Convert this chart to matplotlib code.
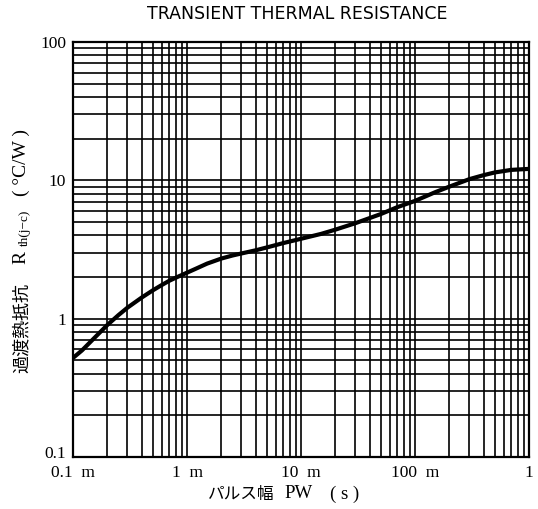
import matplotlib
matplotlib.use("Agg")
import matplotlib.pyplot as plt
import matplotlib.transforms as mtransforms
from matplotlib.ticker import LogLocator, FixedLocator, FixedFormatter, NullFormatter

# ---- data ----
pulse_width_s = [1e-4, 1.2e-4, 1.5e-4, 2e-4, 2.5e-4, 3e-4, 4e-4, 5e-4, 6e-4, 7e-4,
                 8e-4, 1e-3, 1.2e-3, 1.5e-3, 2e-3, 2.5e-3, 3e-3, 4e-3, 5e-3, 7e-3,
                 1e-2, 1.5e-2, 2e-2, 3e-2, 5e-2, 7e-2, 1e-1, 1.5e-1, 2e-1, 3e-1,
                 4e-1, 5e-1, 7e-1, 1.0]
rth_cw = [0.52, 0.59, 0.71, 0.9, 1.06, 1.2, 1.42, 1.6, 1.75, 1.88,
          1.98, 2.15, 2.3, 2.5, 2.72, 2.86, 2.96, 3.12, 3.27, 3.52,
          3.78, 4.1, 4.4, 4.9, 5.7, 6.4, 7.1, 8.2, 9.0, 10.2,
          10.9, 11.4, 11.9, 12.1]
x_ticks = [1e-4, 1e-3, 1e-2, 1e-1, 1.0]
x_tick_labels = ["0.1  m", "1  m", "10  m", "100  m", "1"]
y_ticks = [0.1, 1, 10, 100]
y_tick_labels = ["0.1", "1", "10", "100"]
title_text = "TRANSIENT THERMAL RESISTANCE"

W, H = 538, 509
fig = plt.figure(figsize=(W / 100, H / 100), dpi=100)
L, R, T, B = 73, 529, 42, 457
ax = fig.add_axes([L / W, 1 - B / H, (R - L) / W, (B - T) / H])
ax.set_xscale("log")
ax.set_yscale("log")
ax.set_xlim(1e-4, 1.0)
ax.set_ylim(0.1, 100)

ax.xaxis.set_major_locator(FixedLocator(x_ticks))
ax.xaxis.set_major_formatter(FixedFormatter(x_tick_labels))
ax.yaxis.set_major_locator(FixedLocator(y_ticks))
ax.yaxis.set_major_formatter(FixedFormatter(y_tick_labels))
ax.xaxis.set_minor_locator(LogLocator(base=10, subs=range(2, 10), numticks=20))
ax.yaxis.set_minor_locator(LogLocator(base=10, subs=range(2, 10), numticks=20))
ax.xaxis.set_minor_formatter(NullFormatter())
ax.yaxis.set_minor_formatter(NullFormatter())

ax.grid(True, which="both", color="black", linewidth=1.2)
ax.tick_params(which="both", length=0)
ax.tick_params(axis="x", pad=6)
ax.tick_params(axis="y", pad=5)
for lab in ax.get_xticklabels() + ax.get_yticklabels():
    lab.set_fontfamily("Liberation Serif")
    lab.set_fontsize(12.5)
# lift the bottom y label slightly so it clears the x labels (as in the reference)
ylabs = ax.get_yticklabels()
ylabs[0].set_transform(ylabs[0].get_transform() +
                       mtransforms.ScaledTranslation(0, 5 / 100, fig.dpi_scale_trans))
for s in ax.spines.values():
    s.set_linewidth(1.6)
    s.set_color("black")

ax.plot(pulse_width_s, rth_cw, color="black", linewidth=3.0,
        solid_capstyle="butt", solid_joinstyle="round", zorder=5)

# title
fig.text(297 / W, 1 - 14 / H, title_text, ha="center", va="center",
         fontfamily="DejaVu Sans", fontsize=12.5)

def ft(xp, yp, s, **kw):
    fig.text(xp / W, 1 - yp / H, s, ha="center", va="center", **kw)

# x label
ft(241, 494, "パルス幅", fontfamily="Noto Sans CJK JP", fontsize=12)
ft(299, 494, "PW", fontfamily="Liberation Serif", fontsize=13.5)
ft(345, 494, "( s )", fontfamily="Liberation Serif", fontsize=13.5)

# y label
ft(22, 328, "過渡熱抵抗", fontfamily="Noto Sans CJK JP", fontsize=13, rotation=90)
ft(21, 257, "R", fontfamily="Liberation Serif", fontsize=14, rotation=90)
ft(25, 228, "th(j−c)", fontfamily="Liberation Serif", fontsize=9.5, rotation=90)
ft(21, 163, "( °C/W )", fontfamily="Liberation Serif", fontsize=14, rotation=90)

fig.savefig("out.png", dpi=100)
